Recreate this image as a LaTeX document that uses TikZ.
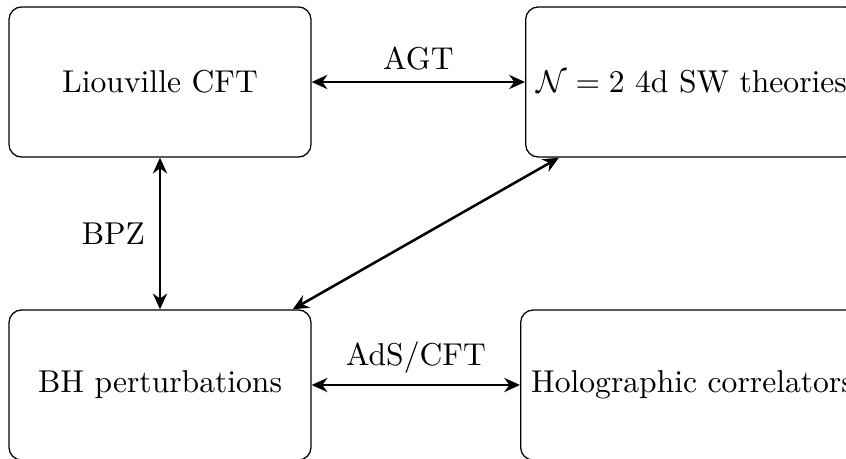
\documentclass[tikz,border=0pt]{standalone}
\usetikzlibrary{arrows.meta}
\begin{document}
\begin{tikzpicture}[x=0.3165pt,y=-0.3165pt,
  boxnode/.style={draw,rounded corners=4pt,line width=0.4pt,minimum width=95.6pt,minimum height=47.5pt,inner sep=3.33pt},
  biarrow/.style={{Stealth[length=5pt,width=4.5pt]}-{Stealth[length=5pt,width=4.5pt]},line width=0.8pt},
  lbl/.style={inner sep=3.33pt}]
\useasboundingbox (0,0) rectangle (846,459);
\node[boxnode] (tl) at (160,82) {Liouville CFT};
\node[boxnode,anchor=west] (tr) at (525,82) {$\mathcal{N}=2$ 4d SW theories};
\node[boxnode] (bl) at (160,385) {BH perturbations};
\node[boxnode,anchor=west] (br) at (520,385) {Holographic correlators};
\draw[biarrow] (tl.east) -- node[lbl,above] (agt) {AGT} (tr.west);
\draw[biarrow] (tl.south) -- node[lbl,left,xshift=-1pt] (bpz) {BPZ} (bl.north);
\draw[biarrow] (bl) -- (tr);
\draw[biarrow] (bl.east) -- node[lbl,above] (ads) {AdS/CFT} (br.west);
\end{tikzpicture}
\end{document}
